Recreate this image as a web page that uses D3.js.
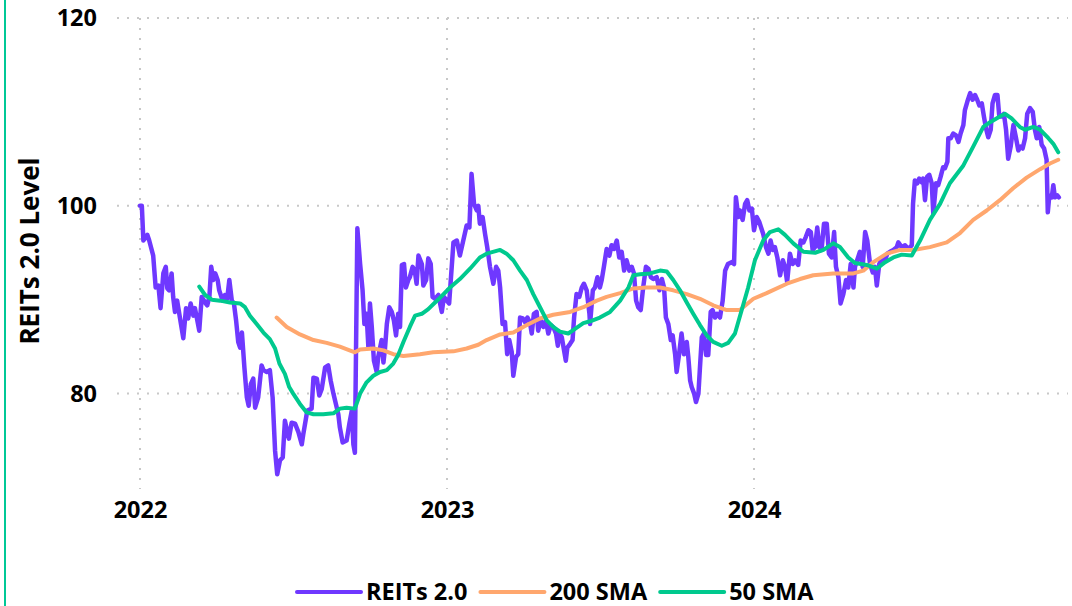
<!DOCTYPE html>
<html>
<head>
<meta charset="utf-8">
<script src="https://cdn.jsdelivr.net/npm/d3@7"></script>
<style>
  html, body { margin: 0; padding: 0; background: #ffffff; }
  svg { display: block; font-family: "Open Sans", "Noto Sans", sans-serif; }
</style>
</head>
<body>
<svg id="chart" width="1072" height="606"></svg>
<script>
// ---------- DATA (decimal years, index level) ----------
const xTickYears = [2022, 2023, 2024];
const yTickValues = [80, 100, 120];
const legendLabels = ["REITs 2.0", "200 SMA", "50 SMA"];
const seriesColors = ["#6f38ff", "#ffa76e", "#00c98e"];

const reitsYear = [2022.000,2022.006,2022.011,2022.024,2022.030,2022.043,2022.051,2022.060,2022.067,2022.076,2022.084,2022.089,2022.095,2022.103,2022.108,2022.114,2022.121,2022.130,2022.141,2022.150,2022.157,2022.165,2022.174,2022.179,2022.193,2022.201,2022.212,2022.219,2022.226,2022.232,2022.239,2022.245,2022.253,2022.258,2022.269,2022.277,2022.284,2022.291,2022.299,2022.306,2022.313,2022.320,2022.326,2022.332,2022.340,2022.348,2022.354,2022.361,2022.369,2022.375,2022.385,2022.396,2022.402,2022.413,2022.423,2022.432,2022.440,2022.447,2022.456,2022.465,2022.472,2022.485,2022.494,2022.505,2022.516,2022.527,2022.532,2022.545,2022.559,2022.565,2022.576,2022.584,2022.592,2022.603,2022.613,2022.621,2022.630,2022.646,2022.651,2022.660,2022.673,2022.682,2022.690,2022.695,2022.700,2022.708,2022.717,2022.725,2022.731,2022.738,2022.744,2022.749,2022.755,2022.762,2022.771,2022.776,2022.787,2022.793,2022.798,2022.804,2022.812,2022.820,2022.827,2022.834,2022.841,2022.847,2022.853,2022.860,2022.866,2022.874,2022.879,2022.888,2022.895,2022.901,2022.907,2022.918,2022.923,2022.932,2022.939,2022.947,2022.953,2022.961,2022.972,2022.983,2022.990,2022.999,2023.007,2023.021,2023.032,2023.042,2023.053,2023.064,2023.073,2023.080,2023.088,2023.097,2023.102,2023.107,2023.116,2023.124,2023.131,2023.140,2023.151,2023.160,2023.167,2023.173,2023.181,2023.189,2023.196,2023.203,2023.211,2023.216,2023.225,2023.232,2023.238,2023.247,2023.254,2023.262,2023.270,2023.276,2023.283,2023.292,2023.297,2023.305,2023.314,2023.322,2023.330,2023.338,2023.346,2023.355,2023.361,2023.366,2023.374,2023.387,2023.392,2023.401,2023.409,2023.414,2023.422,2023.431,2023.439,2023.446,2023.455,2023.464,2023.466,2023.475,2023.482,2023.490,2023.498,2023.504,2023.511,2023.520,2023.529,2023.536,2023.544,2023.553,2023.561,2023.569,2023.577,2023.585,2023.594,2023.602,2023.609,2023.616,2023.623,2023.631,2023.639,2023.648,2023.656,2023.664,2023.672,2023.683,2023.692,2023.700,2023.707,2023.713,2023.721,2023.729,2023.735,2023.743,2023.748,2023.756,2023.764,2023.772,2023.781,2023.786,2023.792,2023.797,2023.805,2023.811,2023.819,2023.824,2023.830,2023.837,2023.844,2023.851,2023.859,2023.865,2023.873,2023.880,2023.889,2023.898,2023.906,2023.915,2023.927,2023.935,2023.941,2023.949,2023.954,2023.963,2023.971,2023.978,2023.985,2023.993,2024.000,2024.009,2024.017,2024.030,2024.039,2024.047,2024.054,2024.061,2024.068,2024.076,2024.085,2024.094,2024.101,2024.108,2024.117,2024.126,2024.134,2024.144,2024.152,2024.161,2024.169,2024.177,2024.185,2024.191,2024.199,2024.206,2024.213,2024.220,2024.228,2024.237,2024.244,2024.253,2024.261,2024.267,2024.275,2024.282,2024.291,2024.300,2024.307,2024.315,2024.324,2024.329,2024.336,2024.345,2024.354,2024.362,2024.369,2024.378,2024.387,2024.394,2024.400,2024.408,2024.419,2024.427,2024.434,2024.443,2024.454,2024.465,2024.470,2024.481,2024.492,2024.503,2024.514,2024.518,2024.524,2024.532,2024.538,2024.546,2024.551,2024.557,2024.564,2024.571,2024.579,2024.584,2024.593,2024.600,2024.608,2024.616,2024.622,2024.630,2024.633,2024.641,2024.649,2024.658,2024.666,2024.673,2024.682,2024.687,2024.695,2024.704,2024.712,2024.720,2024.727,2024.734,2024.742,2024.749,2024.756,2024.763,2024.771,2024.777,2024.785,2024.793,2024.799,2024.807,2024.814,2024.821,2024.828,2024.836,2024.845,2024.853,2024.861,2024.869,2024.875,2024.883,2024.890,2024.899,2024.908,2024.915,2024.921,2024.929,2024.937,2024.945,2024.953,2024.957,2024.962,2024.970,2024.975,2024.980,2024.988,2024.993];
const reitsLevel = [100.0,100.0,96.3,96.9,96.3,94.7,91.3,91.5,89.1,92.8,93.5,91.2,91.0,92.8,90.3,88.7,89.9,88.1,85.9,89.1,88.0,89.6,88.3,89.1,86.7,90.3,89.7,89.4,90.3,93.5,92.1,92.8,92.1,91.0,89.9,90.5,90.1,92.1,89.9,89.6,87.8,85.5,84.9,86.5,82.8,79.6,78.7,81.0,81.6,78.5,79.6,83.0,82.5,82.3,82.5,79.6,73.9,71.4,72.9,73.2,77.1,75.2,76.9,76.8,75.9,74.6,75.7,78.2,78.4,81.7,81.6,79.8,80.5,82.8,83.0,81.4,80.0,77.8,76.4,74.8,75.0,76.8,78.2,74.6,73.7,97.6,93.8,91.0,87.4,88.5,84.9,89.6,87.1,83.5,82.3,83.9,85.7,83.3,84.8,87.4,89.2,88.7,87.8,86.2,88.5,87.1,93.7,93.8,91.3,92.1,92.4,93.5,93.1,91.7,94.7,93.8,91.5,92.1,94.4,93.8,90.3,90.1,90.5,88.7,90.3,89.9,89.6,96.1,96.3,94.7,96.3,97.9,97.7,103.4,100.2,99.5,100.0,98.1,98.8,97.0,95.6,93.5,91.7,93.5,93.1,91.3,87.4,87.6,84.2,85.7,84.4,81.9,83.9,84.2,88.1,88.0,87.6,88.1,87.6,86.4,88.5,88.7,86.7,87.8,87.1,87.8,86.4,87.3,87.1,86.4,85.1,86.4,86.0,83.5,84.9,85.3,85.7,88.1,90.6,90.3,91.3,91.7,91.0,88.5,87.4,91.0,91.3,92.4,91.3,92.1,93.5,95.4,94.7,95.8,95.4,96.3,94.5,95.1,93.1,94.2,93.1,93.5,92.8,89.9,89.2,88.9,91.3,93.5,93.3,92.4,92.2,92.4,91.0,92.2,91.3,88.1,87.4,85.7,86.2,84.2,82.3,84.2,86.4,84.2,85.5,83.9,81.4,80.7,80.0,79.1,80.0,82.8,86.0,86.4,84.1,84.1,88.7,88.9,88.1,88.5,88.1,89.9,93.1,93.8,94.0,93.8,100.9,98.8,99.5,98.5,100.2,100.6,99.5,99.7,97.4,98.8,98.3,97.0,95.6,94.9,96.3,95.3,95.6,94.5,92.6,94.2,93.5,91.9,94.9,93.8,94.2,93.7,96.3,96.1,96.7,97.4,97.2,95.3,95.6,97.7,95.6,95.3,98.1,98.1,94.9,94.5,97.2,93.5,92.4,89.6,90.6,92.1,91.3,93.8,91.3,93.5,94.2,95.1,93.5,97.2,96.3,93.8,92.9,93.5,91.5,93.8,94.5,94.2,94.9,95.1,95.3,95.6,96.1,95.6,95.8,95.4,95.8,100.2,102.7,102.4,102.9,102.5,102.9,100.6,103.1,103.3,102.4,99.2,102.4,102.2,103.1,104.1,104.0,104.7,107.2,107.2,107.7,107.5,106.8,107.7,108.6,110.2,111.1,112.0,111.3,111.8,111.3,110.7,110.9,109.5,108.2,107.3,108.1,110.9,111.8,111.8,109.5,109.5,109.8,108.1,105.0,106.3,108.6,107.3,105.9,106.3,106.1,107.2,109.8,110.4,110.0,108.1,107.2,108.4,106.5,106.1,104.9,99.3,101.1,100.9,102.2,100.9,101.1,100.9];

const sma200Year = [2022.445,2022.478,2022.521,2022.565,2022.608,2022.651,2022.700,2022.717,2022.760,2022.793,2022.825,2022.858,2022.912,2022.955,2023.021,2023.064,2023.102,2023.129,2023.173,2023.216,2023.260,2023.303,2023.346,2023.401,2023.444,2023.488,2023.520,2023.564,2023.607,2023.650,2023.694,2023.737,2023.781,2023.824,2023.867,2023.911,2023.954,2023.998,2024.041,2024.107,2024.150,2024.193,2024.258,2024.324,2024.356,2024.389,2024.432,2024.476,2024.519,2024.573,2024.628,2024.671,2024.714,2024.758,2024.801,2024.845,2024.888,2024.932,2024.964,2024.991];
const sma200Level = [88.1,87.1,86.3,85.7,85.4,85.0,84.4,84.7,84.8,84.6,84.2,84.0,84.2,84.4,84.5,84.8,85.2,85.7,86.3,86.5,87.3,88.0,88.4,88.7,89.2,89.9,90.3,90.7,91.2,91.3,91.3,91.0,90.6,90.1,89.4,88.9,88.9,90.1,90.7,91.7,92.2,92.6,92.8,92.8,93.1,94.0,94.9,95.3,95.3,95.6,96.1,97.1,98.5,99.5,100.6,101.9,103.0,103.9,104.5,104.9];

const sma50Year = [2022.193,2022.212,2022.234,2022.261,2022.293,2022.326,2022.342,2022.358,2022.380,2022.402,2022.423,2022.440,2022.454,2022.472,2022.486,2022.499,2022.521,2022.543,2022.565,2022.597,2022.630,2022.651,2022.673,2022.700,2022.717,2022.738,2022.760,2022.782,2022.804,2022.825,2022.841,2022.858,2022.879,2022.896,2022.918,2022.939,2022.961,2022.977,2023.010,2023.042,2023.075,2023.107,2023.129,2023.173,2023.194,2023.216,2023.238,2023.260,2023.281,2023.303,2023.325,2023.346,2023.368,2023.395,2023.417,2023.444,2023.466,2023.498,2023.531,2023.564,2023.591,2023.607,2023.629,2023.661,2023.694,2023.716,2023.737,2023.759,2023.781,2023.802,2023.824,2023.846,2023.867,2023.895,2023.916,2023.938,2023.960,2023.981,2024.003,2024.030,2024.052,2024.079,2024.101,2024.128,2024.161,2024.199,2024.226,2024.258,2024.280,2024.307,2024.329,2024.367,2024.400,2024.427,2024.454,2024.481,2024.514,2024.541,2024.573,2024.606,2024.638,2024.682,2024.714,2024.747,2024.769,2024.801,2024.818,2024.839,2024.866,2024.883,2024.910,2024.932,2024.959,2024.975,2024.991];
const sma50Level = [91.4,90.5,90.0,89.9,89.7,89.6,89.2,88.3,87.4,86.5,85.8,84.8,83.2,82.1,80.7,80.0,78.9,78.0,77.8,77.8,77.9,78.4,78.5,78.4,80.0,81.2,81.9,82.3,82.5,83.2,84.1,85.5,87.1,88.3,88.5,89.0,89.7,90.2,91.3,92.2,93.3,94.5,94.9,95.3,94.9,94.2,93.1,92.1,90.6,89.2,87.8,87.1,86.6,86.4,86.9,87.5,87.7,88.1,88.7,89.9,91.3,92.6,92.7,92.8,93.1,93.0,92.1,91.0,89.7,88.5,87.3,86.2,85.5,85.1,85.4,86.4,88.9,91.3,94.2,96.3,97.2,97.5,96.9,96.0,95.1,95.0,95.3,96.0,95.6,94.5,93.9,93.7,93.3,94.0,94.5,94.8,94.7,96.3,98.5,100.2,102.4,104.3,106.3,108.4,108.9,109.5,109.8,109.3,108.4,108.1,108.4,108.1,107.2,106.6,105.7];

// ---------- LAYOUT ----------
const svg = d3.select("#chart");
const W = 1072, H = 606;
const x = d3.scaleLinear().domain([2022, 2025]).range([140, 1061]);
const y = d3.scaleLinear().domain([70, 120]).range([487.5, 18]);
const gridLeft = 117, gridRight = 1068;
const fontSize = 23.5;
const titleSize = 26;

// left accent border
svg.append("line")
  .attr("x1", 5).attr("x2", 5).attr("y1", 0).attr("y2", H)
  .attr("stroke", "#00c896").attr("stroke-width", 2);

// horizontal grid
svg.append("g").selectAll("line").data(yTickValues).join("line")
  .attr("x1", gridLeft).attr("x2", gridRight)
  .attr("y1", d => y(d)).attr("y2", d => y(d))
  .attr("stroke", "#c8c8c8").attr("stroke-width", 2)
  .attr("stroke-dasharray", "2,8");

// vertical grid
svg.append("g").selectAll("line").data(xTickYears).join("line")
  .attr("x1", d => x(d)).attr("x2", d => x(d))
  .attr("y1", y(120)).attr("y2", 489)
  .attr("stroke", "#c8c8c8").attr("stroke-width", 2)
  .attr("stroke-dasharray", "2,8");

// y axis
const yAxis = svg.append("g")
  .attr("transform", `translate(${gridLeft},0)`)
  .call(d3.axisLeft(y).tickValues(yTickValues).tickSize(0).tickPadding(20).tickFormat(d3.format("d")));
yAxis.select(".domain").remove();
yAxis.selectAll("text")
  .attr("font-family", "Open Sans, sans-serif")
  .attr("font-weight", 700).attr("font-size", fontSize).attr("fill", "#000");

// x axis
const xAxis = svg.append("g")
  .attr("transform", `translate(0,488)`)
  .call(d3.axisBottom(x).tickValues(xTickYears).tickSize(0).tickFormat(d3.format("d")));
xAxis.select(".domain").remove();
xAxis.selectAll("text")
  .attr("y", 22).attr("dy", "0.35em")
  .attr("font-family", "Open Sans, sans-serif")
  .attr("font-weight", 700).attr("font-size", fontSize).attr("fill", "#000");

// y title
svg.append("text")
  .attr("transform", "translate(30,251) rotate(-90)")
  .attr("text-anchor", "middle").attr("dy", "0.35em")
  .attr("font-weight", 700).attr("font-size", titleSize).attr("fill", "#000")
  .text("REITs 2.0 Level");

// lines
const line = d3.line().x(d => x(d[0])).y(d => y(d[1])).curve(d3.curveLinear);
const series = [
  d3.zip(reitsYear, reitsLevel),
  d3.zip(sma200Year, sma200Level),
  d3.zip(sma50Year, sma50Level)
];
const widths = [4.5, 4, 4];
series.forEach((s, i) => {
  svg.append("path").datum(s)
    .attr("fill", "none")
    .attr("stroke", seriesColors[i])
    .attr("stroke-width", widths[i])
    .attr("stroke-linejoin", "round")
    .attr("stroke-linecap", "round")
    .attr("d", line);
});

// legend
const legend = svg.append("g");
let lx = 297;
const ly = 592;
legendLabels.forEach((lab, i) => {
  legend.append("line")
    .attr("x1", lx).attr("x2", lx + 64).attr("y1", ly).attr("y2", ly)
    .attr("stroke", seriesColors[i]).attr("stroke-width", 4).attr("stroke-linecap", "round");
  const t = legend.append("text")
    .attr("x", lx + 69).attr("y", ly).attr("dy", "0.35em")
    .attr("font-weight", 700).attr("font-size", fontSize).attr("fill", "#000")
    .text(lab);
  lx += 69 + t.node().getComputedTextLength() + 13;
});
</script>
</body>
</html>
